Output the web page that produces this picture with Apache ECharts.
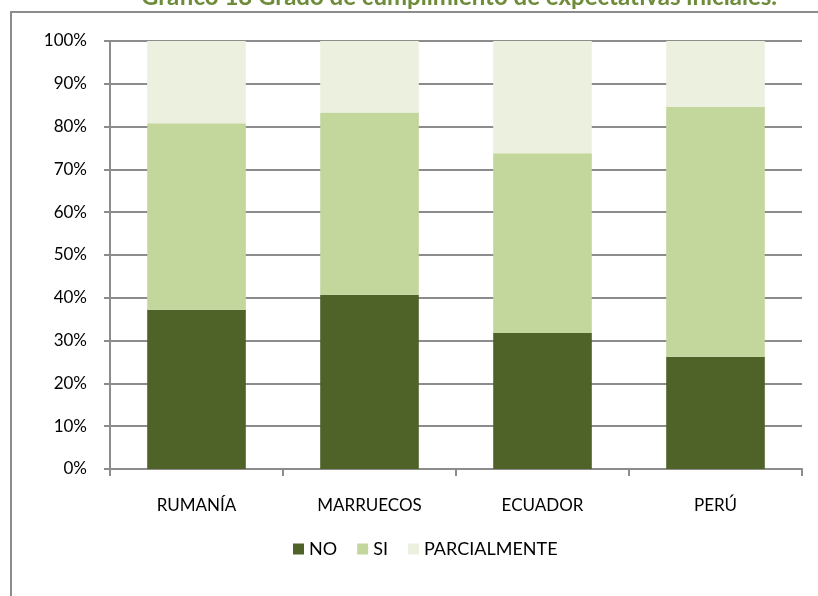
<!DOCTYPE html>
<html>
<head>
<meta charset="utf-8">
<script src="https://cdn.jsdelivr.net/npm/echarts@6/dist/echarts.min.js"></script>
<style>
html,body{margin:0;padding:0;background:#fff;}
#chart{width:818px;height:596px;}
</style>
</head>
<body>
<div id="chart"></div>
<script>
const categories = ['RUMANÍA', 'MARRUECOS', 'ECUADOR', 'PERÚ'];
const seriesNames = ['NO', 'SI', 'PARCIALMENTE'];
const valuesNO = [37.2, 40.7, 31.8, 26.2];
const valuesSI = [43.6, 42.6, 42.0, 58.4];
const valuesParcial = [19.2, 16.7, 26.2, 15.4];
const yTickLabels = ['0%', '10%', '20%', '30%', '40%', '50%', '60%', '70%', '80%', '90%', '100%'];
const titleText = 'Gráfico 18 Grado de cumplimiento de expectativas iniciales.';

const colors = ['#4F6228', '#C3D69B', '#EBF1DE'];
const font = 'Lato, "Open Sans", sans-serif';
const chart = echarts.init(document.getElementById('chart'), null, {renderer: 'canvas'});
const dataSets = [valuesNO, valuesSI, valuesParcial];
chart.setOption({
  animation: false,
  color: colors,
  title: {
    text: titleText,
    left: 454, textAlign: 'center', top: -20,
    textStyle: {color: '#6E8B3A', fontSize: 24, fontWeight: 'bold', fontFamily: font}
  },
  graphic: [{
    type: 'rect', shape: {x: 11, y: 12, width: 900, height: 700},
    style: {fill: 'none', stroke: '#8c8c8c', lineWidth: 2}, silent: true, z: -1
  }],
  legend: {
    data: seriesNames, top: 535, left: 288, icon: 'rect',
    itemWidth: 11, itemHeight: 11, itemGap: 20,
    textStyle: {fontSize: 18, color: '#000', fontFamily: font}
  },
  grid: {left: 110, right: 16, top: 41, bottom: 127, containLabel: false},
  xAxis: {
    type: 'category', data: categories,
    axisLine: {show: true, lineStyle: {color: '#8c8c8c', width: 2}},
    axisTick: {show: true, length: 7, lineStyle: {color: '#8c8c8c', width: 2}},
    axisLabel: {margin: 28, fontSize: 17, color: '#000', fontFamily: font}
  },
  yAxis: {
    type: 'value', min: 0, max: 100, interval: 10,
    axisLine: {show: true, lineStyle: {color: '#8c8c8c', width: 2}},
    axisTick: {show: true, length: 6, lineStyle: {color: '#8c8c8c', width: 2}},
    splitLine: {show: true, lineStyle: {color: '#8c8c8c', width: 2}},
    axisLabel: {
      margin: 23, fontSize: 17, color: '#000', fontFamily: font,
      formatter: v => yTickLabels[Math.round(v / 10)]
    }
  },
  series: seriesNames.map((n, i) => ({
    name: n, type: 'bar', stack: 'total', data: dataSets[i],
    barWidth: '57%',
    itemStyle: {color: colors[i]}
  }))
});
</script>
</body>
</html>
